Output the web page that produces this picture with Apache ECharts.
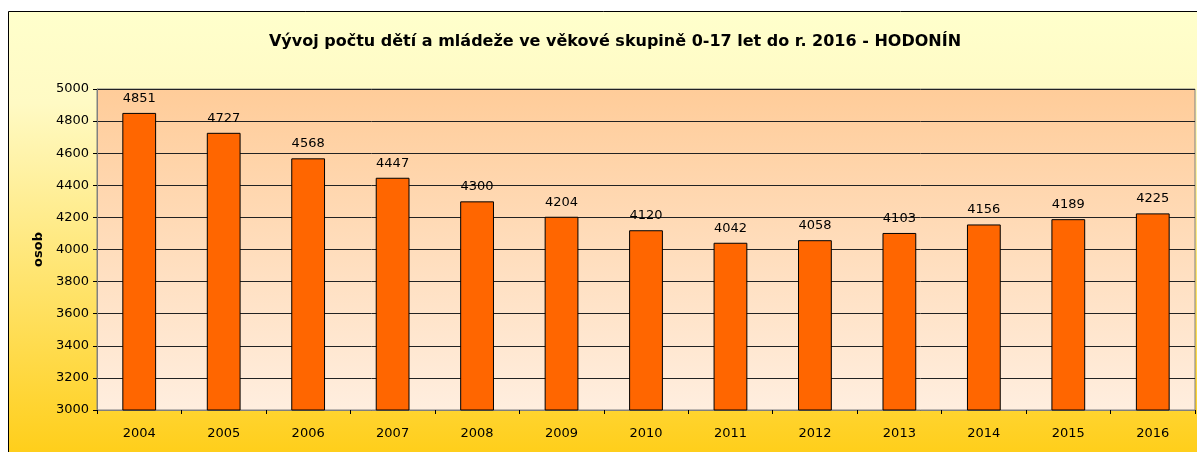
<!DOCTYPE html>
<html>
<head>
<meta charset="utf-8">
<script src="https://cdn.jsdelivr.net/npm/echarts@6/dist/echarts.min.js"></script>
<style>
  html, body { margin: 0; padding: 0; background: #fff; }
  #chart { width: 1197px; height: 452px; }
</style>
</head>
<body>
<div id="chart"></div>
<script>
var years = ['2004', '2005', '2006', '2007', '2008', '2009', '2010', '2011', '2012', '2013', '2014', '2015', '2016'];
var persons = [4851, 4727, 4568, 4447, 4300, 4204, 4120, 4042, 4058, 4103, 4156, 4189, 4225];
var yMin = 3000, yMax = 5000, yStep = 200;

var chart = echarts.init(document.getElementById('chart'));
var font = 'Tahoma, "DejaVu Sans", sans-serif';

chart.setOption({
    animation: false,
    backgroundColor: '#fff',
    graphic: [{
        type: 'rect',
        z: -10,
        shape: { x: 8.5, y: 11.5, width: 1200, height: 460 },
        style: {
            stroke: '#000',
            lineWidth: 1,
            fill: new echarts.graphic.LinearGradient(0, 0, 0, 1, [
                { offset: 0, color: '#FFFFCC' },
                { offset: 0.2, color: '#FFFAC4' },
                { offset: 1, color: '#FFCC11' }
            ])
        }
    }, {
        type: 'rect',
        z: -5,
        shape: { x: 97, y: 89, width: 1098, height: 321 },
        style: {
            stroke: '#808080',
            lineWidth: 1,
            fill: new echarts.graphic.LinearGradient(0, 0, 0, 1, [
                { offset: 0, color: '#FFCC99' },
                { offset: 1, color: '#FFEEDF' }
            ])
        }
    }],
    title: {
        text: 'Vývoj počtu dětí a mládeže ve věkové skupině 0-17 let do r. 2016 - HODONÍN',
        left: 610,
        textAlign: 'center',
        top: 29,
        textStyle: { fontFamily: font, fontSize: 16, fontWeight: 'bold', color: '#000' }
    },
    grid: { left: 97, top: 89, right: 2, bottom: 42 },
    xAxis: {
        type: 'category',
        data: years,
        axisLine: { lineStyle: { color: '#808080', width: 1 } },
        axisTick: { show: true, length: 4, lineStyle: { color: '#000' } },
        axisLabel: { fontFamily: font, fontSize: 13, color: '#000', margin: 17 }
    },
    yAxis: {
        type: 'value',
        min: yMin,
        max: yMax,
        interval: yStep,
        name: 'osob',
        nameLocation: 'middle',
        nameGap: 52,
        nameTextStyle: { fontFamily: font, fontSize: 13, fontWeight: 'bold', color: '#000' },
        axisLine: { show: true, lineStyle: { color: '#808080', width: 1 } },
        axisTick: { show: true, length: 4, lineStyle: { color: '#000' } },
        axisLabel: {
            fontFamily: font, fontSize: 13, color: '#000', margin: 8,
            formatter: function (v) { return String(v); }
        },
        splitLine: { lineStyle: { color: '#222', width: 1 } }
    },
    series: [{
        type: 'bar',
        data: persons,
        barWidth: '40%',
        itemStyle: { color: '#FF6600', borderColor: '#000', borderWidth: 1 },
        label: {
            show: true,
            position: 'top',
            distance: 8,
            fontFamily: font,
            fontSize: 13,
            color: '#000'
        }
    }]
});
</script>
</body>
</html>
